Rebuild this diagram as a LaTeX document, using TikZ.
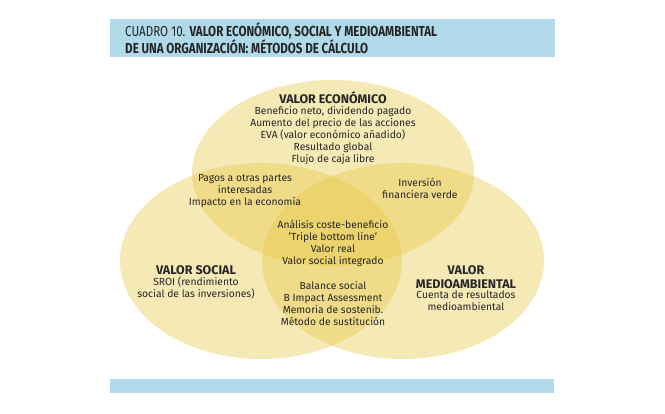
\documentclass[tikz,border=0pt]{standalone}
\usepackage{fontspec}
\setmainfont{Fira Sans}
\usepackage{graphicx}
\usepackage{tikz}
\usetikzlibrary{positioning, shapes}
\definecolor{barblue}{RGB}{176,218,234}
\definecolor{venn}{RGB}{232,200,70}
\tikzset{
    setnode/.style = {draw=none, fill=venn, fill opacity=0.4, ellipse},
    textnode/.style = {draw=none, fill=none, inner sep=0pt, align=center,
      font=\fontsize{10.3}{12}\selectfont, text=black!85},
    headnode/.style = {textnode, font=\fontsize{12.5}{13.5}\selectfont\bfseries}
}
\begin{document}
\begin{tikzpicture}[x=1pt, y=-1pt]
    \useasboundingbox (0,0) rectangle (665,413);
    \fill[white] (0,0) rectangle (665,413);

    % bars
    \fill[barblue] (110,19) rectangle (555,57);
    \fill[barblue] (110,379) rectangle (554,393);
    \node [name=title, textnode, anchor=north west, align=left,
        font=\fontsize{14.5}{16}\selectfont] at (125,22)
        {\scalebox{0.8}[1]{CUADRO 10. \textbf{VALOR ECONÓMICO, SOCIAL Y MEDIOAMBIENTAL}}\\
         \scalebox{0.8}[1]{\textbf{DE UNA ORGANIZACIÓN: MÉTODOS DE CÁLCULO}}};

    % sets
    \node [name=eco, setnode, minimum width=282pt, minimum height=186pt] at (333,173) {};
    \node [name=soc, setnode, minimum width=282pt, minimum height=196pt] at (261,261) {};
    \node [name=med, setnode, minimum width=282pt, minimum height=196pt] at (403,261) {};

    % labels
    \node [name=ecohead, headnode] at (333,98) {VALOR ECONÓMICO};
    \node [name=ecotext, textnode, below=2pt of ecohead]
        {Beneficio neto, dividendo pagado\\Aumento del precio de las acciones\\
         EVA (valor económico añadido)\\Resultado global\\Flujo de caja libre};
    \node [name=ecosoc, textnode] at (245,191)
        {Pagos a otras partes\\interesadas\\Impacto en la economía};
    \node [name=ecomed, textnode] at (420,188) {Inversión\\financiera verde};
    \node [name=all, textnode] at (333,243)
        {Análisis coste-beneficio\\'Triple bottom line'\\Valor real\\Valor social integrado};
    \node [name=sochead, headnode] at (196,270) {VALOR SOCIAL};
    \node [name=soctext, textnode, below=2pt of sochead]
        {SROI (rendimiento\\social de las inversiones)};
    \node [name=medhead, headnode] at (466,277) {VALOR\\MEDIOAMBIENTAL};
    \node [name=medtext, textnode, below=2pt of medhead]
        {Cuenta de resultados\\medioambiental};
    \node [name=socmed, textnode] at (333,304)
        {Balance social\\B Impact Assessment\\Memoria de sostenib.\\Método de sustitución};
\end{tikzpicture}
\end{document}
